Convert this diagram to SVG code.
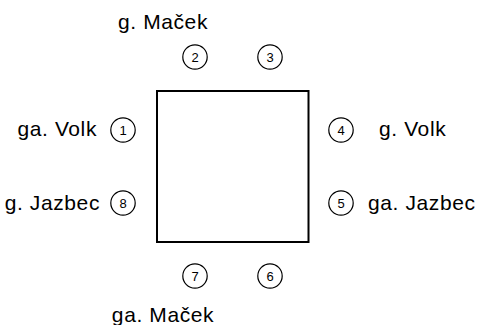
<svg xmlns="http://www.w3.org/2000/svg" width="477" height="325" viewBox="0 0 477 325">
<style>
.lbl{font-family:"Liberation Sans","DejaVu Sans",sans-serif;font-size:21px;fill:#000;letter-spacing:0.6px}
.num{font-family:"Liberation Sans","DejaVu Sans",sans-serif;font-size:13px;fill:#000;text-anchor:middle}
.seat{fill:#fff;stroke:#000;stroke-width:1.2}
.table{fill:#fff;stroke:#000;stroke-width:2}
</style>
<rect width="477" height="325" fill="#fff"/>
<g id="table"><rect class="table" x="157" y="91" width="151.5" height="151"/></g>
<g id="connectors"/>
<g id="seat1"><circle class="seat" cx="123" cy="130" r="12.2"/><text class="num" x="123" y="134.6">1</text></g>
<g id="seat2"><circle class="seat" cx="195" cy="57" r="12.2"/><text class="num" x="195" y="61.6">2</text></g>
<g id="seat3"><circle class="seat" cx="270" cy="57" r="12.2"/><text class="num" x="270" y="61.6">3</text></g>
<g id="seat4"><circle class="seat" cx="341" cy="130" r="12.2"/><text class="num" x="341" y="134.6">4</text></g>
<g id="seat5"><circle class="seat" cx="341" cy="203" r="12.2"/><text class="num" x="341" y="207.6">5</text></g>
<g id="seat6"><circle class="seat" cx="270" cy="276" r="12.2"/><text class="num" x="270" y="280.6">6</text></g>
<g id="seat7"><circle class="seat" cx="195" cy="276" r="12.2"/><text class="num" x="195" y="280.6">7</text></g>
<g id="seat8"><circle class="seat" cx="123" cy="203" r="12.2"/><text class="num" x="123" y="207.6">8</text></g>
<g id="label-top"><text class="lbl" x="163" y="29" text-anchor="middle">g. Maček</text></g>
<g id="label-left1"><text class="lbl" x="97" y="136" text-anchor="end">ga. Volk</text></g>
<g id="label-right1"><text class="lbl" x="379" y="136">g. Volk</text></g>
<g id="label-left2"><text class="lbl" x="100" y="210" text-anchor="end">g. Jazbec</text></g>
<g id="label-right2"><text class="lbl" x="368" y="210">ga. Jazbec</text></g>
<g id="label-bottom"><text class="lbl" x="163" y="322" text-anchor="middle">ga. Maček</text></g>
</svg>
